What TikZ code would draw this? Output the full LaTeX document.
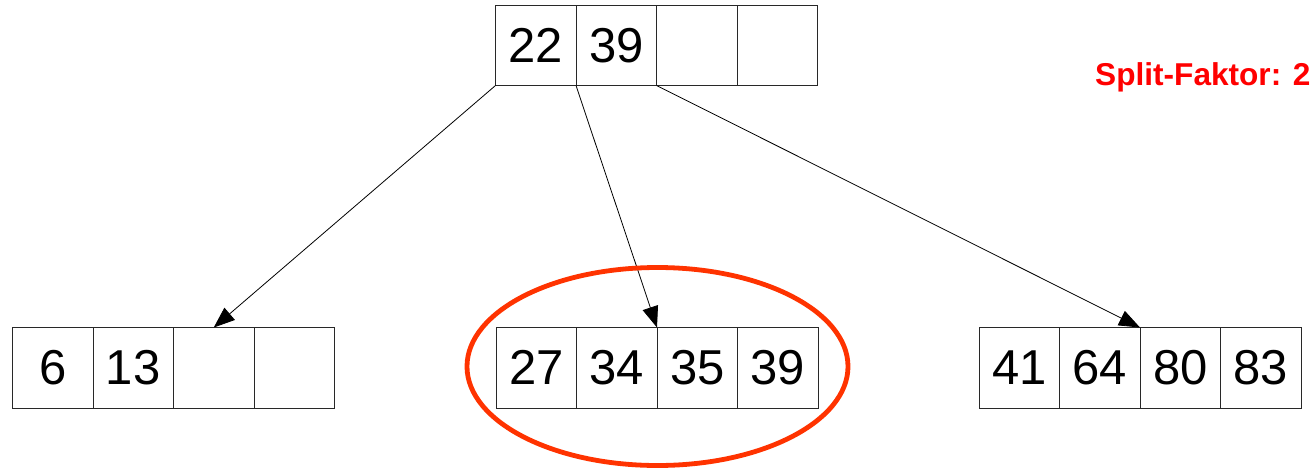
\documentclass[tikz,border=0pt]{standalone}
\usepackage{fontspec}
\setmainfont{Liberation Sans}
\usetikzlibrary{arrows.meta,shapes.geometric}
\definecolor{cellline}{RGB}{40,40,40}
\definecolor{ringred}{RGB}{255,51,0}
\tikzset{
  cell/.style={draw=cellline, line width=1pt, minimum width=80.5pt, minimum height=80.5pt,
    inner sep=0pt, outer sep=0pt, font=\fontsize{49}{49}\selectfont, anchor=north west},
  ptr/.style={line width=0.8pt, -{Triangle[length=21pt,width=16pt]}},
  ring/.style={draw=ringred, line width=4.8pt},
  note/.style={text=red, font=\fontsize{31.6}{31.6}\selectfont\bfseries, inner sep=0pt, anchor=base west}
}
\begin{document}
\begin{tikzpicture}[x=1pt,y=-1pt]
\useasboundingbox (0,0) rectangle (1312,469);
% top node
\node[cell] (t1) at (495.5,5) {22};
\node[cell] (t2) at (t1.north east) {39};
\node[cell] (t3) at (t2.north east) {};
\node[cell] (t4) at (t3.north east) {};
% left node
\node[cell] (l1) at (12.5,327.5) {6};
\node[cell] (l2) at (l1.north east) {13};
\node[cell] (l3) at (l2.north east) {};
\node[cell] (l4) at (l3.north east) {};
% middle node
\node[cell] (m1) at (496,327.5) {27};
\node[cell] (m2) at (m1.north east) {34};
\node[cell] (m3) at (m2.north east) {35};
\node[cell] (m4) at (m3.north east) {39};
% right node
\node[cell] (r1) at (979,327.5) {41};
\node[cell] (r2) at (r1.north east) {64};
\node[cell] (r3) at (r2.north east) {80};
\node[cell] (r4) at (r3.north east) {83};
% pointers
\draw[ptr] (t1.south west) -- (l3.north);
\draw[ptr] (t2.south west) -- (m3.north west);
\draw[ptr] (t3.south west) -- (r3.north west);
% highlight
\node[ring, ellipse, minimum width=381pt, minimum height=198pt, inner sep=0pt] (hl) at (657.5,366.5) {};
% label
\node[note] (sf) at (1095,85) {Split-Faktor: 2};
\end{tikzpicture}
\end{document}
